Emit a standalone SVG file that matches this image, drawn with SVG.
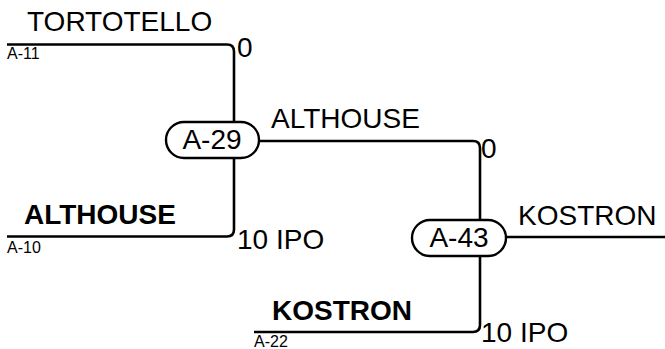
<svg xmlns="http://www.w3.org/2000/svg" width="665" height="349" viewBox="0 0 665 349">
<style>
.t{font-family:"Liberation Sans",Arial,sans-serif;font-size:28px;fill:#000}
.b{font-weight:bold}
.s{font-family:"Liberation Sans",Arial,sans-serif;font-size:16px;fill:#000}
.c{fill:none;stroke:#000;stroke-width:2.6}
.n{fill:#fff;stroke:#000;stroke-width:2.4}
</style>
<rect width="665" height="349" fill="#fff"/>
<g id="connectors">
<path class="c" d="M7,44.5 H227 Q234,44.5 234,51.5 V123"/>
<path class="c" d="M234,158 V229.5 Q234,236.5 227,236.5 H7"/>
<path class="c" d="M259,141 H473 Q480,141 480,148 V220"/>
<path class="c" d="M480,256 V325 Q480,332 473,332 H254"/>
<path class="c" d="M505,237 H665"/>
</g>
<g id="src-a11">
<text class="t" x="27" y="31">TORTOTELLO</text>
<text class="s" x="7" y="59">A-11</text>
<text class="t" x="237" y="57">0</text>
</g>
<g id="src-a10">
<text class="t b" x="24" y="224">ALTHOUSE</text>
<text class="s" x="7" y="253">A-10</text>
<text class="t" x="237" y="249">10 IPO</text>
</g>
<g id="node-a29">
<rect class="n" x="166" y="122" width="93" height="36" rx="18"/>
<text class="t" x="212" y="149" text-anchor="middle">A-29</text>
</g>
<g id="label-a29-out">
<text class="t" x="271" y="128">ALTHOUSE</text>
<text class="t" x="481" y="158">0</text>
</g>
<g id="src-a22">
<text class="t b" x="272" y="320">KOSTRON</text>
<text class="s" x="254" y="347">A-22</text>
<text class="t" x="481" y="342">10 IPO</text>
</g>
<g id="node-a43">
<rect class="n" x="412" y="220" width="94" height="36" rx="18"/>
<text class="t" x="459" y="247" text-anchor="middle">A-43</text>
</g>
<g id="label-a43-out">
<text class="t" x="518" y="225">KOSTRON</text>
</g>
</svg>
